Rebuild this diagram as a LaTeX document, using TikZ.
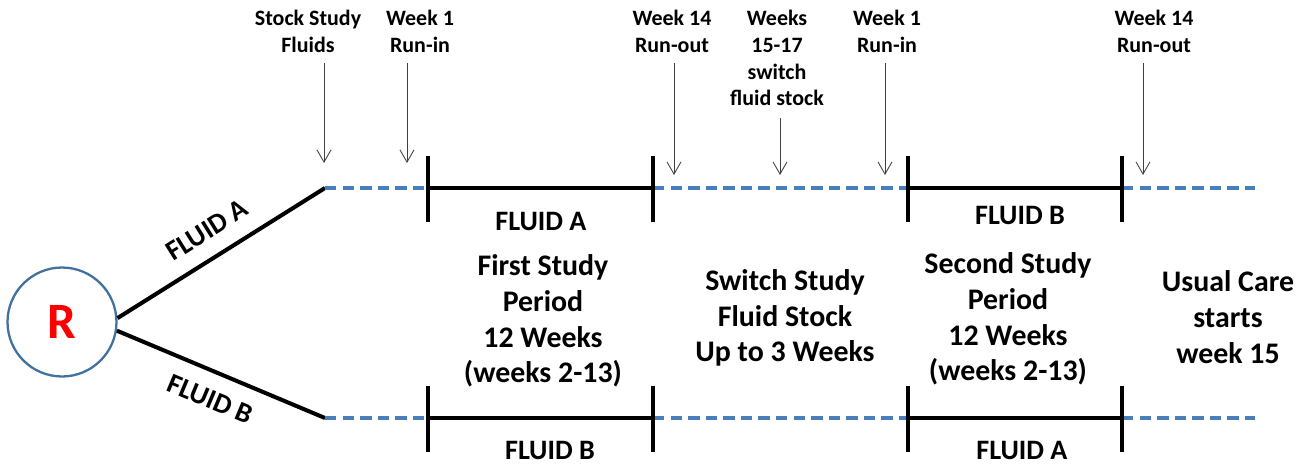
\documentclass[tikz,border=0pt]{standalone}
\usepackage{fontspec}
\setmainfont{Carlito}
\usetikzlibrary{arrows.meta}
\definecolor{dashblue}{HTML}{4A7EBB}
\definecolor{circblue}{HTML}{41719C}
\begin{document}
\begin{tikzpicture}[x=0.02cm,y=-0.02cm,
  small/.style={font=\fontsize{12.5}{15.3}\selectfont\bfseries, align=center, inner sep=0pt},
  big/.style={font=\fontsize{17}{20.4}\selectfont\bfseries, align=center, inner sep=0pt},
  fluid/.style={font=\fontsize{16}{19}\selectfont\bfseries, inner sep=0pt},
  solidseg/.style={line width=2.3pt},
  tickmark/.style={line width=1.8pt},
  dashseg/.style={dashblue, line width=2pt, dash pattern=on 6.5pt off 3.5pt},
  marker/.style={-{Straight Barb[length=7pt,width=8pt]}, line width=0.5pt, black!75},
]
\useasboundingbox (0,0) rectangle (1306,464);

% timeline points
\foreach \n/\x in {0/325,1/428,2/653,3/908,4/1122,5/1255}{
  \coordinate (tA\n) at (\x,188);
  \coordinate (tB\n) at (\x,418);
}

% R node and branches
\node[circle, draw=circblue, line width=1.3pt, minimum size=2.18cm, inner sep=0pt,
      text=red, font=\fontsize{29}{30}\selectfont\bfseries] (R) at (62,322) {R};
\draw[solidseg] (R.4) -- (tA0) node[midway, above=9pt, sloped, fluid] (lfa) {FLUID A};
\draw[solidseg] (R.-9) -- (tB0) node[midway, below=9pt, sloped, fluid] (lfb) {FLUID B};

% timelines
\foreach \r in {A,B}{
  \draw[dashseg] (t\r0) -- (t\r1);
  \draw[solidseg] (t\r1) -- (t\r2);
  \draw[dashseg] (t\r2) -- (t\r3);
  \draw[solidseg] (t\r3) -- (t\r4);
  \draw[dashseg] (t\r4) -- (t\r5);
  \foreach \i in {1,2,3,4}{
    \draw[tickmark] (t\r\i) ++(0,-32) -- ++(0,66);
  }
}

% top labels
\node[small] (l1) at (308,31) {Stock Study\\Fluids};
\node[small] (l2) at (420,31) {Week 1\\Run-in};
\node[small] (l3) at (672,31) {Week 14\\Run-out};
\node[small] (l4) at (777,58) {Weeks\\15-17\\switch\\fluid stock};
\node[small] (l5) at (887,31) {Week 1\\Run-in};
\node[small] (l6) at (1154,31) {Week 14\\Run-out};

% marker arrows
\foreach \k/\x/\ys/\ye in {1/324/63/163, 2/407/63/163, 3/674/63/175, 4/780/118/175, 5/885/63/175, 6/1143/63/175}{
  \coordinate (ms\k) at (\x,\ys);
  \coordinate (me\k) at (\x,\ye);
  \draw[marker] (ms\k) -- (me\k);
}

% fluid labels
\node[fluid] (fa1) at (541,221) {FLUID A};
\node[fluid] (fb1) at (1020,215) {FLUID B};
\node[fluid] (fb2) at (550,450) {FLUID B};
\node[fluid] (fa2) at (1022,450) {FLUID A};

% period texts
\node[big] (p1) at (543,321) {First Study\\Period\\12 Weeks\\(weeks 2-13)};
\node[big] (p2) at (785,318) {Switch Study\\Fluid Stock\\Up to 3 Weeks};
\node[big] (p3) at (1008,319) {Second Study\\Period\\12 Weeks\\(weeks 2-13)};
\node[big] (p4) at (1228,317) {Usual Care\\starts\\week 15};
\end{tikzpicture}
\end{document}
